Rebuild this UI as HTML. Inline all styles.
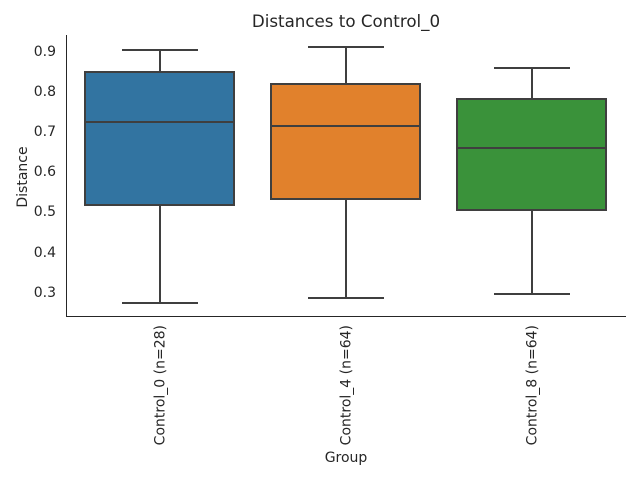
<!DOCTYPE html><html><head><style>body{margin:0;background:#fff}</style></head><body>
<svg width="640" height="480" xmlns="http://www.w3.org/2000/svg" font-family="'DejaVu Sans','Liberation Sans',sans-serif" fill="#262626">
<text x="346" y="27" font-size="16.7" text-anchor="middle">Distances to Control_0</text>
<line x1="66.5" y1="35" x2="66.5" y2="316" stroke="#262626" stroke-width="1"/>
<line x1="66" y1="316.5" x2="626" y2="316.5" stroke="#262626" stroke-width="1"/>
<g font-size="14" text-anchor="end">
<text x="56" y="56">0.9</text><text x="56" y="96">0.8</text><text x="56" y="136">0.7</text><text x="56" y="176">0.6</text><text x="56" y="216">0.5</text><text x="56" y="257">0.4</text><text x="56" y="297">0.3</text>
</g>
<text transform="translate(27,177) rotate(-90)" font-size="14" text-anchor="middle">Distance</text>
<text x="346" y="462" font-size="14" text-anchor="middle">Group</text>
<g font-size="14" text-anchor="end">
<text transform="translate(164.5,325) rotate(-90)">Control_0 (n=28)</text>
<text transform="translate(350.5,325) rotate(-90)">Control_4 (n=64)</text>
<text transform="translate(536.5,325) rotate(-90)">Control_8 (n=64)</text>
</g>
<g stroke="#3f3f3f" stroke-width="2">
<line x1="160" y1="50" x2="160" y2="72"/><line x1="160" y1="205" x2="160" y2="303"/>
<line x1="122" y1="50" x2="198" y2="50"/><line x1="122" y1="303" x2="198" y2="303"/>
<rect x="85" y="72" width="149" height="133" fill="#3274a1"/>
<line x1="85" y1="122" x2="234" y2="122"/>
<line x1="346" y1="47" x2="346" y2="84"/><line x1="346" y1="199" x2="346" y2="298"/>
<line x1="308" y1="47" x2="384" y2="47"/><line x1="308" y1="298" x2="384" y2="298"/>
<rect x="271" y="84" width="149" height="115" fill="#e1812c"/>
<line x1="271" y1="126" x2="420" y2="126"/>
<line x1="532" y1="68" x2="532" y2="99"/><line x1="532" y1="210" x2="532" y2="294"/>
<line x1="494" y1="68" x2="570" y2="68"/><line x1="494" y1="294" x2="570" y2="294"/>
<rect x="457" y="99" width="149" height="111" fill="#3a923a"/>
<line x1="457" y1="148" x2="606" y2="148"/>
</g>
</svg></body></html>
